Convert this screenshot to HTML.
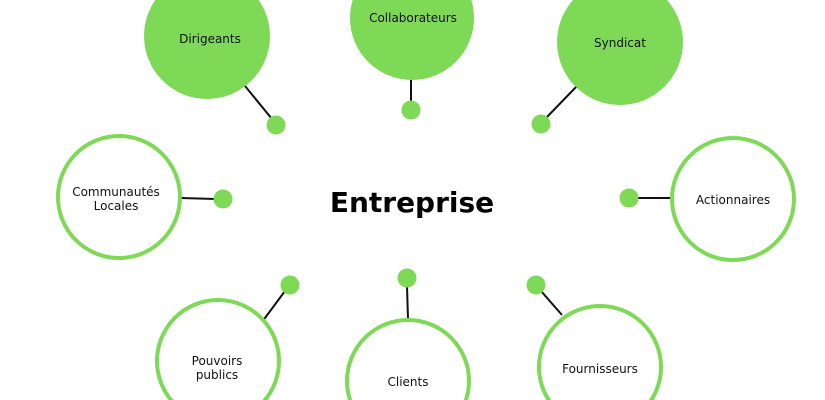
<!DOCTYPE html>
<html><head><meta charset="utf-8"><style>
html,body{margin:0;padding:0;background:#fff;width:825px;height:400px;overflow:hidden;}
svg{display:block;}
</style></head><body>
<svg width="825" height="400" viewBox="0 0 825 400" xmlns="http://www.w3.org/2000/svg" font-family="'DejaVu Sans','Liberation Sans',sans-serif">
<g stroke="#111" stroke-width="2">
<line x1="245" y1="86" x2="272" y2="119"/>
<line x1="411" y1="80" x2="411" y2="102"/>
<line x1="577" y1="86" x2="546" y2="118"/>
<line x1="181" y1="198" x2="215" y2="199"/>
<line x1="671" y1="198" x2="637" y2="198"/>
<line x1="262" y1="322" x2="285" y2="291"/>
<line x1="408" y1="319" x2="407" y2="286"/>
<line x1="562" y1="315" x2="541" y2="291"/>
</g>
<g fill="#7ed957">
<circle cx="207" cy="36" r="63"/>
<circle cx="412" cy="18" r="62"/>
<circle cx="620" cy="42" r="63"/>
<circle cx="276" cy="125" r="9.5"/>
<circle cx="411" cy="110" r="9.5"/>
<circle cx="541" cy="124" r="9.5"/>
<circle cx="223" cy="199" r="9.5"/>
<circle cx="629" cy="198" r="9.5"/>
<circle cx="290" cy="285" r="9.5"/>
<circle cx="407" cy="278" r="9.5"/>
<circle cx="536" cy="285" r="9.5"/>
</g>
<g fill="#fff" stroke="#7ed957" stroke-width="4">
<circle cx="119" cy="197" r="61"/>
<circle cx="733" cy="199" r="61"/>
<circle cx="218" cy="361" r="61"/>
<circle cx="408" cy="381" r="61"/>
<circle cx="600" cy="367" r="61"/>
</g>
<g font-size="12" fill="#111" text-anchor="middle">
<text x="210" y="43">Dirigeants</text>
<text x="413" y="22">Collaborateurs</text>
<text x="620" y="47">Syndicat</text>
<text x="116" y="196">Communautés</text>
<text x="116" y="210">Locales</text>
<text x="733" y="204">Actionnaires</text>
<text x="217" y="365">Pouvoirs</text>
<text x="217" y="379">publics</text>
<text x="408" y="386">Clients</text>
<text x="600" y="373">Fournisseurs</text>
</g>
<text x="412" y="212" font-size="28" font-weight="bold" text-anchor="middle" fill="#000">Entreprise</text>
</svg>
</body></html>
